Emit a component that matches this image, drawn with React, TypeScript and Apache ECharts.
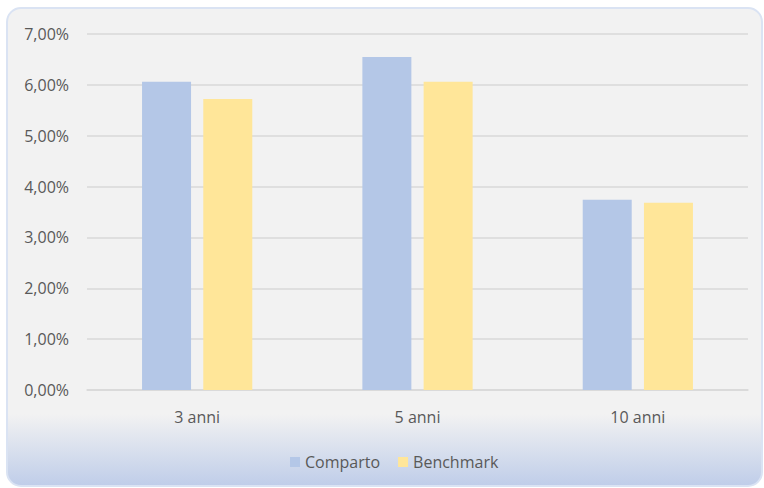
import React, { useEffect, useRef } from "react";
import * as echarts from "echarts";

const categories = ["3 anni", "5 anni", "10 anni"];
const comparto = [6.06, 6.55, 3.74];
const benchmark = [5.72, 6.06, 3.68];
const yTicks = { min: 0, max: 7, interval: 1 };

const FONT = "'Liberation Sans Narrow', 'Open Sans', sans-serif";

export default function App() {
  const ref = useRef<HTMLDivElement>(null);
  useEffect(() => {
    const chart = echarts.init(ref.current!, null, { renderer: "svg" });
    chart.setOption({
      animation: false,
      graphic: [
        {
          type: "rect",
          z: -10,
          silent: true,
          shape: { x: 7, y: 8, width: 755, height: 478, r: 14 },
          style: {
            fill: {
              type: "linear",
              x: 0,
              y: 0,
              x2: 0,
              y2: 1,
              colorStops: [
                { offset: 0, color: "#f2f2f2" },
                { offset: 0.85, color: "#f2f2f2" },
                { offset: 1, color: "#bfcde9" },
              ],
            },
            stroke: "#dae3f3",
            lineWidth: 2,
          },
        },
      ],
      grid: { left: 87, right: 16, top: 34, bottom: 98 },
      legend: {
        bottom: 13,
        left: 285,
        itemWidth: 10,
        itemHeight: 10,
        itemGap: 18,
        icon: "rect",
        textStyle: { color: "#595959", fontSize: 16, fontFamily: FONT },
        data: ["Comparto", "Benchmark"],
      },
      xAxis: {
        type: "category",
        data: categories,
        axisLine: { lineStyle: { color: "#d9d9d9", width: 1.5 } },
        axisTick: { show: false },
        axisLabel: { color: "#595959", fontSize: 16, fontFamily: FONT, margin: 19 },
      },
      yAxis: {
        type: "value",
        min: yTicks.min,
        max: yTicks.max,
        interval: yTicks.interval,
        axisLine: { show: false },
        axisTick: { show: false },
        splitLine: { lineStyle: { color: "#d9d9d9", width: 1.5 } },
        axisLabel: {
          color: "#595959",
          fontSize: 16,
          fontFamily: FONT,
          margin: 18,
          formatter: (v: number) => v.toFixed(2).replace(".", ",") + "%",
        },
      },
      series: [
        {
          name: "Comparto",
          type: "bar",
          data: comparto,
          barWidth: 49,
          barGap: "25%",
          itemStyle: { color: "#b4c7e7" },
        },
        {
          name: "Benchmark",
          type: "bar",
          data: benchmark,
          barWidth: 49,
          barGap: "25%",
          itemStyle: { color: "#ffe699" },
        },
      ],
    });
    return () => chart.dispose();
  }, []);
  return (
    <div
      ref={ref}
      style={{ position: "fixed", left: 0, top: 0, width: 764, height: 488, background: "#ffffff" }}
    />
  );
}
